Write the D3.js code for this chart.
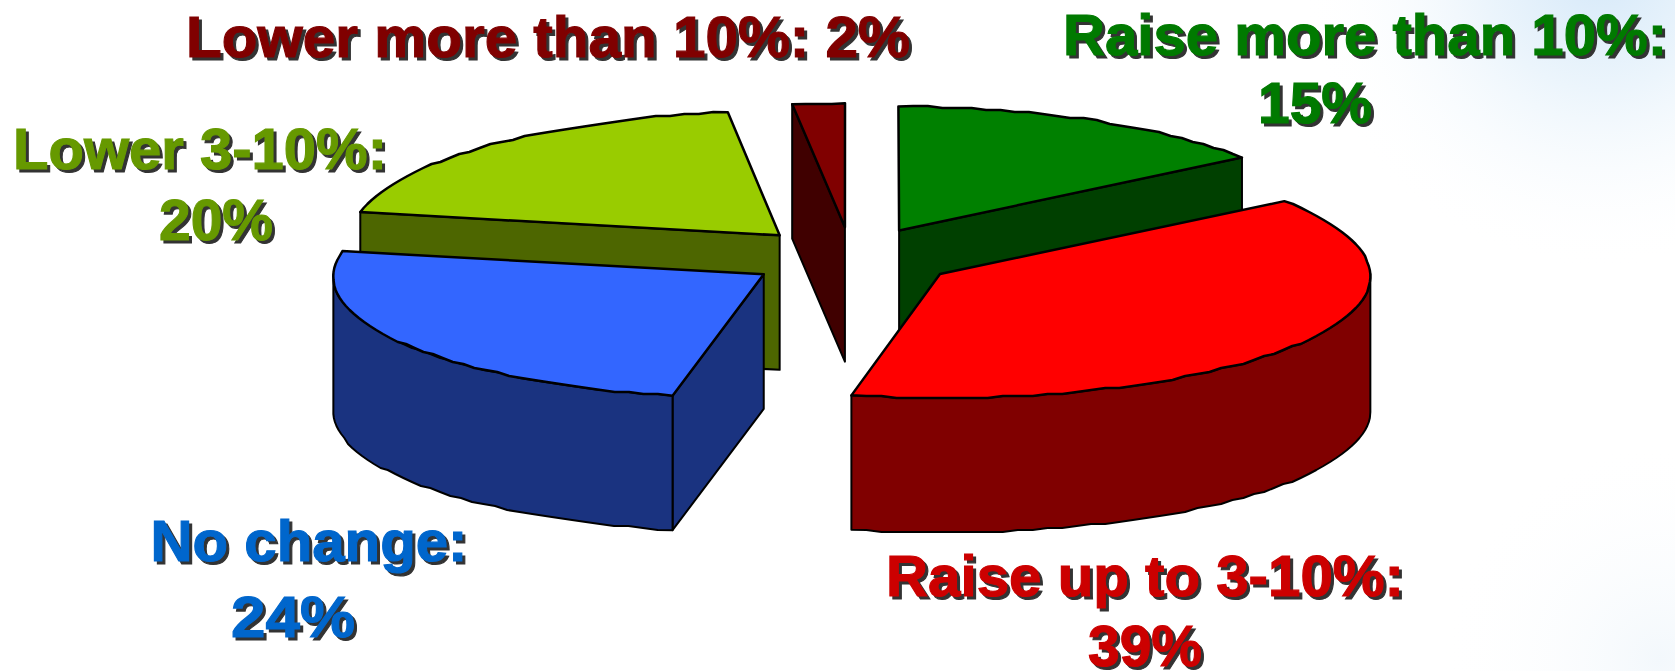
<!DOCTYPE html>
<html>
<head>
<meta charset="utf-8">
<script src="https://cdnjs.cloudflare.com/ajax/libs/d3/7.8.5/d3.min.js"></script>
<style>
html,body{margin:0;padding:0;background:#fff;overflow:hidden}
svg{display:block}
text{font-family:"Liberation Sans",Arial,sans-serif;font-weight:700}
</style>
</head>
<body>
<svg id="c" width="1675" height="671"></svg>
<script>
const categories = ["Raise more than 10%", "Raise up to 3-10%", "No change", "Lower 3-10%", "Lower more than 10%"];
const sliceValues = [15, 38.3, 24.7, 20, 2];
const percentLabels = ["15%", "39%", "24%", "20%", "2%"];
const topColors = ["#008000", "#ff0000", "#3366ff", "#99cc00", "#800000"];
const wallColors = ["#004000", "#800000", "#1a3380", "#4d6600", "#400000"];
const textColors = ["#007a00", "#cc0000", "#0066cc", "#669900", "#800000"];

const W = 1675, H = 671;
const svg = d3.select("#c");
const defs = svg.append("defs");

// background wash
const g1 = defs.append("radialGradient").attr("id","wash1").attr("gradientUnits","userSpaceOnUse")
  .attr("cx",1600).attr("cy",-30).attr("r",300);
g1.append("stop").attr("offset",0).attr("stop-color","#d6e9f9");
g1.append("stop").attr("offset",0.4).attr("stop-color","#ecf5fc");
g1.append("stop").attr("offset",1).attr("stop-color","#ffffff").attr("stop-opacity",0);
const g2 = defs.append("radialGradient").attr("id","wash2").attr("gradientUnits","userSpaceOnUse")
  .attr("cx",1660).attr("cy",660).attr("r",220);
g2.append("stop").attr("offset",0).attr("stop-color","#f3f8fc");
g2.append("stop").attr("offset",1).attr("stop-color","#ffffff").attr("stop-opacity",0);
svg.append("rect").attr("width",W).attr("height",H).attr("fill","#fff");
svg.append("rect").attr("width",W).attr("height",H).attr("fill","url(#wash1)");
svg.append("rect").attr("width",W).attr("height",H).attr("fill","url(#wash2)");

// projection of the tilted pie
const centerX = 851.5, centerY = 257.5, radiusX = 429.5, radiusY = 124, depth = 134.5, explode = 0.245, persp = 0.015;
const xs = d3.scaleLinear().domain([-1,1]).range([centerX-radiusX, centerX+radiusX]);
const ys = d3.scaleLinear().domain([-1,1]).range([centerY-radiusY, centerY+radiusY]);

const arcs = d3.pie().sort(null).value(d=>d)(sliceValues).map((a,i)=>({...a,i}));
const line = d3.line().x(p=>p[0]).y(p=>p[1]);

function origin(d){
  const mid=(d.startAngle+d.endAngle)/2;
  return [explode*Math.sin(mid), -explode*Math.cos(mid)];
}
function project(ux,uy,drop){
  return [xs(ux*(1+persp*uy)), ys(uy)+(drop||0)];
}
function rimPoint(d,a,drop){
  const o=origin(d);
  return project(o[0]+Math.sin(a), o[1]-Math.cos(a), drop);
}
function apex(d,drop){
  const o=origin(d);
  return project(o[0],o[1],drop);
}
function sampled(a0,a1){
  const n=Math.max(2,Math.ceil((a1-a0)/0.035));
  return d3.range(n+1).map(k=>a0+(a1-a0)*k/n);
}
// the arcs of the reference are slightly stepped: snap inner rim points to a small pixel grid
function rimPath(d,list,drop){
  return list.map((a,k)=>{
    const p=rimPoint(d,a,drop);
    if(k===0||k===list.length-1) return p;
    return [p[0], Math.round(p[1]/2)*2];
  });
}

const order = arcs.slice().sort((a,b)=>apex(a)[1]-apex(b)[1]);
const slices = svg.selectAll("g.slice").data(order).join("g").attr("class","slice");

slices.each(function(d){
  const g=d3.select(this);
  const wall=(pts)=>g.append("path").attr("d",line(pts)+"Z")
    .attr("fill",wallColors[d.i]).attr("stroke","#000").attr("stroke-width",2).attr("stroke-linejoin","round");
  const e=1e-6;
  if(Math.sin(d.startAngle)<-e){
    wall([apex(d),rimPoint(d,d.startAngle),rimPoint(d,d.startAngle,depth),apex(d,depth)]);
  }
  if(Math.sin(d.endAngle)>e){
    wall([apex(d),rimPoint(d,d.endAngle),rimPoint(d,d.endAngle,depth),apex(d,depth)]);
  }
  const a0=Math.max(d.startAngle,Math.PI/2), a1=Math.min(d.endAngle,3*Math.PI/2);
  if(a1>a0){
    const s=sampled(a0,a1);
    wall(rimPath(d,s,0).concat(rimPath(d,s,depth).reverse()));
  }
  const s=sampled(d.startAngle,d.endAngle);
  g.append("path").attr("d",line([apex(d)].concat(rimPath(d,s,0)))+"Z")
    .attr("fill",topColors[d.i]).attr("stroke","#000").attr("stroke-width",2.5).attr("stroke-linejoin","round");
});

// labels: [category index, text, anchor x, baseline y, fitted width]
const labelLayout = [
  [4, categories[4]+": "+percentLabels[4], 548, 57, 724],
  [0, categories[0]+":", 1365, 55, 604],
  [0, percentLabels[0], 1315, 123, 0],
  [3, categories[3]+":", 200, 169, 374],
  [3, percentLabels[3], 216, 240, 0],
  [2, categories[2]+":", 309, 561, 317],
  [2, percentLabels[2], 293, 637, 124],
  [1, categories[1]+":", 1145, 596, 518],
  [1, percentLabels[1], 1145, 666, 0]
];
const fontSize = 57;
const drawLabel=(dx,dy,fill)=>{
  labelLayout.forEach(l=>{
    const color=fill||textColors[l[0]];
    const t=svg.append("text").attr("x",l[2]+dx).attr("y",l[3]+dy).attr("text-anchor","middle")
      .attr("font-size",fontSize).attr("fill",color).attr("stroke",color).attr("stroke-width",1.1).text(l[1]);
    if(l[4]) t.attr("textLength",l[4]).attr("lengthAdjust","spacingAndGlyphs");
  });
};
drawLabel(3,3,"#333");
drawLabel(0,0,null);
</script>
</body>
</html>
